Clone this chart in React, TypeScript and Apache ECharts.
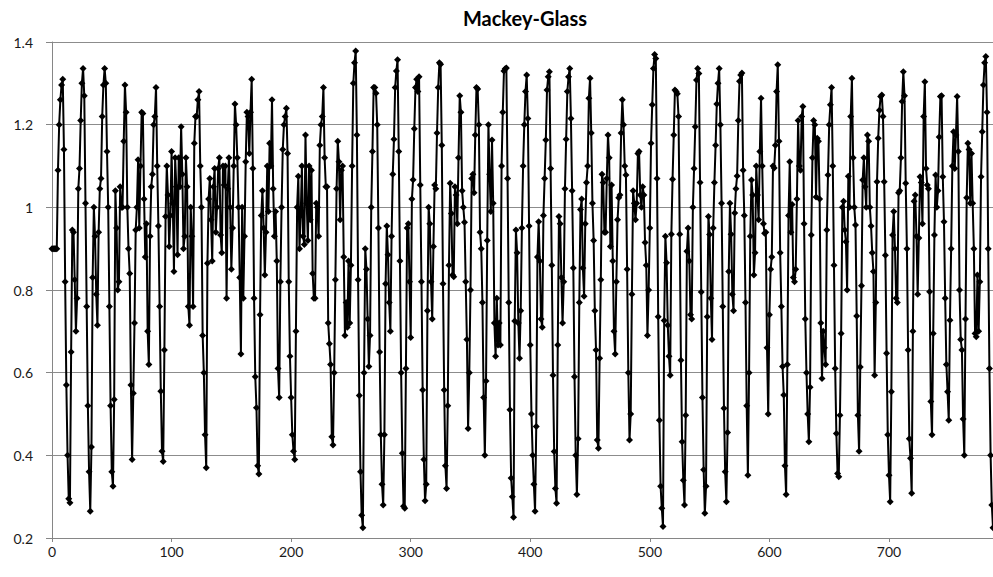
import React, { useEffect, useRef } from "react";
import * as echarts from "echarts";

// Values, one point per step (index = x value)
const values000to099 = [
  0.9, 0.9, 0.9, 0.9, 0.9, 1.09, 1.2, 1.26, 1.296, 1.31,
  1.14, 0.82, 0.57, 0.4, 0.295, 0.285, 0.65, 0.945, 0.94, 0.825,
  0.7, 0.78, 1.045, 1.094, 1.21, 1.3, 1.336, 1.27, 1.01, 0.76,
  0.52, 0.36, 0.265, 0.42, 0.83, 1.0, 0.93, 0.79, 0.715, 0.94,
  1.045, 1.07, 1.22, 1.296, 1.336, 1.3, 1.135, 1.0, 0.76, 0.52,
  0.36, 0.325, 0.535, 1.04, 0.95, 0.8, 0.82, 1.05, 1.0, 1.0,
  1.16, 1.296, 1.23, 1.0, 0.9, 0.84, 0.57, 0.39, 0.55, 0.72,
  0.945, 1.0, 1.115, 0.95, 1.1, 1.23, 1.227, 1.02, 0.88, 0.96,
  0.7, 0.62, 0.93, 1.05, 1.08, 1.2, 1.22, 1.29, 1.1, 0.955,
  0.76, 0.555, 0.41, 0.385, 0.655, 0.978, 1.1, 1.03, 0.905, 0.98,
];
const values100to199 = [
  1.135, 1.01, 0.845, 1.12, 1.05, 0.885, 1.12, 1.05, 1.195, 1.08,
  0.9, 0.93, 1.12, 1.05, 0.76, 0.715, 1.0, 0.93, 0.76, 1.155,
  1.22, 1.22, 1.26, 1.28, 1.1, 1.0, 0.69, 0.6, 0.45, 0.37,
  0.865, 1.02, 1.07, 0.97, 0.87, 1.05, 1.094, 0.94, 1.0, 1.094,
  1.12, 0.933, 0.89, 1.1, 1.054, 1.1, 0.78, 1.045, 1.12, 1.0,
  0.85, 0.95, 1.1, 1.25, 1.2, 1.12, 1.0, 0.83, 0.645, 1.0,
  0.78, 0.93, 1.11, 1.23, 1.22, 1.13, 1.23, 1.31, 1.094, 0.78,
  0.59, 0.515, 0.375, 0.355, 0.74, 0.98, 1.04, 0.95, 0.836, 0.94,
  1.1, 0.99, 1.155, 1.1, 1.26, 1.045, 0.93, 0.99, 0.87, 0.61,
  0.54, 0.82, 1.0, 1.14, 1.2, 1.22, 1.24, 1.13, 0.82, 0.64,
];
const values200to299 = [
  0.54, 0.45, 0.41, 0.39, 0.7, 1.0, 1.075, 0.9, 0.98, 1.1,
  0.93, 0.91, 1.175, 1.01, 0.92, 1.1, 0.97, 1.09, 0.84, 0.78,
  0.78, 1.01, 1.0, 0.93, 1.15, 1.2, 1.22, 1.29, 1.12, 1.05,
  1.05, 0.72, 0.67, 0.62, 0.445, 0.425, 0.6, 0.825, 1.045, 1.16,
  1.11, 0.97, 1.09, 1.1, 0.88, 0.69, 0.77, 0.71, 0.87, 0.72,
  0.86, 1.1, 1.3, 1.35, 1.378, 1.175, 0.825, 0.545, 0.36, 0.255,
  0.225, 0.6, 0.9, 0.85, 0.73, 0.615, 0.69, 1.0, 1.135, 1.29,
  1.29, 1.276, 1.2, 0.95, 0.65, 0.45, 0.33, 0.28, 0.45, 0.815,
  0.955, 0.885, 0.77, 0.7, 0.93, 1.08, 1.165, 1.29, 1.33, 1.357,
  1.135, 0.87, 0.6, 0.405, 0.277, 0.272, 0.61, 0.95, 0.96, 0.82,
];
const values300to399 = [
  0.685, 1.02, 1.067, 1.19, 1.29, 1.31, 1.28, 1.316, 1.054, 0.82,
  0.558, 0.39, 0.29, 0.33, 0.75, 1.0, 0.96, 0.82, 0.73, 0.905,
  1.054, 1.045, 1.18, 1.29, 1.35, 1.346, 1.15, 0.815, 0.558, 0.375,
  0.32, 0.52, 0.86, 1.058, 0.985, 0.836, 0.832, 1.05, 1.03, 0.96,
  1.12, 1.27, 1.23, 1.04, 1.0, 0.964, 0.82, 0.68, 0.465, 0.6,
  0.8, 1.07, 1.08, 1.035, 1.175, 1.29, 1.286, 1.2, 0.94, 0.9,
  0.77, 0.54, 0.4, 0.58, 0.92, 1.2, 1.08, 0.99, 1.163, 1.01,
  0.72, 0.64, 0.78, 0.667, 0.72, 0.667, 1.1, 1.23, 1.33, 1.335,
  1.337, 1.07, 0.77, 0.51, 0.345, 0.3, 0.25, 0.725, 0.945, 0.89,
  0.72, 0.635, 0.75, 0.95, 1.1, 1.2, 1.28, 1.32, 1.215, 0.955,
];
const values400to499 = [
  0.667, 0.5, 0.4, 0.33, 0.265, 0.47, 0.88, 0.965, 0.87, 0.73,
  0.71, 0.98, 1.07, 1.163, 1.284, 1.316, 1.328, 1.094, 0.86, 0.594,
  0.409, 0.32, 0.284, 0.667, 0.978, 0.96, 0.83, 0.72, 0.82, 1.045,
  1.165, 1.28, 1.316, 1.336, 1.215, 1.04, 0.853, 0.59, 0.4, 0.305,
  0.44, 0.77, 0.995, 1.02, 0.853, 0.785, 0.96, 1.06, 1.1, 1.264,
  1.312, 1.18, 1.01, 0.92, 0.75, 0.655, 0.437, 0.417, 0.635, 0.825,
  1.08, 1.06, 0.94, 0.94, 1.07, 1.175, 1.12, 0.905, 1.054, 0.87,
  0.7, 0.645, 0.82, 0.97, 1.023, 1.03, 1.18, 1.26, 1.2, 1.1,
  1.078, 0.85, 0.6, 0.437, 0.5, 0.79, 1.04, 1.01, 0.97, 1.01,
  1.13, 1.135, 1.03, 1.0, 1.05, 1.03, 0.915, 0.86, 0.69, 0.8,
];
const values500to599 = [
  0.95, 1.155, 1.248, 1.336, 1.37, 1.36, 1.07, 0.735, 0.485, 0.325,
  0.272, 0.228, 0.726, 0.93, 0.866, 0.715, 0.64, 0.594, 0.935, 1.068,
  1.175, 1.284, 1.28, 1.275, 1.22, 0.935, 0.63, 0.433, 0.34, 0.28,
  0.497, 0.894, 0.95, 0.87, 0.74, 0.73, 1.0, 1.094, 1.195, 1.308,
  1.336, 1.324, 1.06, 0.795, 0.54, 0.365, 0.26, 0.325, 0.735, 0.978,
  0.934, 0.78, 0.68, 0.95, 1.06, 1.15, 1.25, 1.3, 1.336, 1.2,
  1.01, 0.76, 0.514, 0.36, 0.288, 0.455, 0.845, 1.01, 0.935, 0.79,
  0.75, 0.986, 1.045, 1.076, 1.21, 1.305, 1.32, 1.325, 1.09, 0.98,
  0.77, 0.52, 0.352, 0.6, 0.93, 1.066, 1.03, 0.836, 0.89, 1.1,
  1.03, 0.97, 1.135, 1.264, 1.1, 0.96, 0.937, 0.94, 0.66, 0.5,
];
const values600to699 = [
  0.74, 0.85, 0.88, 1.1, 1.095, 1.15, 1.28, 1.345, 1.16, 0.89,
  0.76, 0.615, 0.546, 0.375, 0.305, 0.62, 0.98, 1.11, 0.94, 1.007,
  0.83, 0.82, 0.85, 1.02, 1.21, 1.1, 1.09, 1.22, 1.244, 0.96,
  0.73, 0.6, 0.5, 0.433, 0.565, 0.933, 1.12, 1.21, 1.2, 1.025,
  1.167, 1.16, 1.02, 0.72, 0.586, 0.7, 0.66, 0.62, 0.945, 1.078,
  1.2, 1.248, 1.29, 1.1, 0.86, 0.61, 0.453, 0.356, 0.348, 0.497,
  0.695, 1.0, 1.015, 0.945, 0.917, 0.8, 1.075, 1.0, 1.22, 1.312,
  1.12, 1.0, 0.957, 0.737, 0.497, 0.41, 0.614, 0.81, 1.066, 1.12,
  1.05, 1.0, 1.175, 1.16, 1.0, 0.955, 0.89, 0.845, 0.594, 0.77,
  1.062, 1.167, 1.235, 1.268, 1.272, 1.22, 1.062, 0.884, 0.647, 0.45,
];
const values700to787 = [
  0.352, 0.288, 0.554, 0.933, 0.99, 0.9, 0.78, 0.77, 1.035, 1.04,
  1.12, 1.256, 1.328, 1.27, 1.058, 0.9, 0.655, 0.44, 0.393, 0.308,
  0.7, 1.015, 1.03, 0.93, 0.79, 0.926, 1.074, 1.06, 0.96, 1.22,
  1.304, 1.094, 1.054, 1.045, 0.796, 0.53, 0.45, 0.695, 0.933, 1.078,
  1.0, 1.04, 1.17, 1.268, 1.27, 1.074, 0.965, 0.78, 0.62, 0.554,
  0.485, 0.727, 0.9, 1.1, 1.183, 1.094, 1.175, 1.268, 1.135, 0.8,
  0.68, 0.655, 0.488, 0.4, 0.73, 1.023, 1.155, 1.14, 1.01, 1.13,
  1.01, 0.9, 0.695, 0.687, 0.836, 0.7, 0.82, 1.074, 1.183, 1.296,
  1.35, 1.365, 1.23, 0.9, 0.61, 0.4, 0.28, 0.225,
];

const chartTitle = "Mackey-Glass";
const xTicks = { min: 0, max: 787, interval: 100 };
const yTicks = { min: 0.2, max: 1.4, interval: 0.2 };

export default function App() {
  const ref = useRef<HTMLDivElement>(null);

  useEffect(() => {
    if (!ref.current) return;
    const chart = echarts.init(ref.current, null, { renderer: "svg" });
    const values = [
      ...values000to099,
      ...values100to199,
      ...values200to299,
      ...values300to399,
      ...values400to499,
      ...values500to599,
      ...values600to699,
      ...values700to787,
    ];
    const data = values.map((v, i) => [i, v]);
    const labelFont = { fontFamily: "Lato", fontSize: 14, color: "#1a1a1a" };

    chart.setOption({
      animation: false,
      backgroundColor: "#ffffff",
      graphic: [
        {
          type: "text",
          x: 525,
          y: 18,
          style: {
            text: chartTitle,
            font: "bold 20px Lato",
            fill: "#000000",
            align: "center",
            verticalAlign: "middle",
          },
        },
      ],
      grid: { left: 52, right: 0, top: 42, bottom: 39, containLabel: false },
      xAxis: {
        type: "value",
        min: xTicks.min,
        max: xTicks.max,
        interval: xTicks.interval,
        axisLine: { show: true, lineStyle: { color: "#868686", width: 1 } },
        axisTick: { show: true, length: 4, lineStyle: { color: "#868686" } },
        axisLabel: { ...labelFont, margin: 6, showMaxLabel: false },
        splitLine: { show: false },
      },
      yAxis: {
        type: "value",
        min: yTicks.min,
        max: yTicks.max,
        interval: yTicks.interval,
        axisLine: { show: true, lineStyle: { color: "#868686", width: 1 } },
        axisTick: { show: true, length: 6, lineStyle: { color: "#868686" } },
        axisLabel: { ...labelFont, margin: 19 },
        splitLine: { show: true, lineStyle: { color: "#8c8c8c", width: 1 } },
      },
      series: [
        {
          type: "line",
          data,
          symbol: "diamond",
          symbolSize: 7,
          showSymbol: true,
          itemStyle: { color: "#000000" },
          lineStyle: { color: "#000000", width: 2 },
          clip: false,
        },
      ],
    });

    return () => chart.dispose();
  }, []);

  return (
    <div
      ref={ref}
      style={{ position: "absolute", left: 0, top: 0, width: 993, height: 577 }}
    />
  );
}
